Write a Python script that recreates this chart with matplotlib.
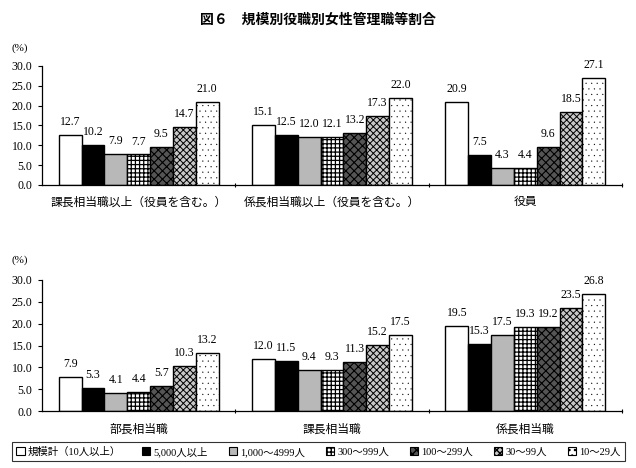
import matplotlib
matplotlib.use("Agg")
import matplotlib.pyplot as plt
import matplotlib.patches as mpatches
import numpy as np

plt.rcParams['font.family'] = ['Liberation Serif', 'Noto Sans CJK JP']

title = "図６　規模別役職別女性管理職等割合"
series_labels = ["規模計（10人以上）", "5,000人以上", "1,000～4999人", "300～999人",
                 "100～299人", "30～99人", "10～29人"]
top_categories = ["課長相当職以上（役員を含む。）", "係長相当職以上（役員を含む。）", "役員"]
bottom_categories = ["部長相当職", "課長相当職", "係長相当職"]

top_values = [
    [12.7, 15.1, 20.9],
    [10.2, 12.5, 7.5],
    [7.9, 12.0, 4.3],
    [7.7, 12.1, 4.4],
    [9.5, 13.2, 9.6],
    [14.7, 17.3, 18.5],
    [21.0, 22.0, 27.1],
]
bottom_values = [
    [7.9, 12.0, 19.5],
    [5.3, 11.5, 15.3],
    [4.1, 9.4, 17.5],
    [4.4, 9.3, 19.3],
    [5.7, 11.3, 19.2],
    [10.3, 15.2, 23.5],
    [13.2, 17.5, 26.8],
]
yticks = [0, 5, 10, 15, 20, 25, 30]

styles = [
    dict(facecolor='white', hatch=None, hlw=0.8),
    dict(facecolor='black', hatch=None, hlw=0.8),
    dict(facecolor='#b8b8b8', hatch=None, hlw=0.8),
    dict(facecolor='white', hatch='++++', hlw=0.9),
    dict(facecolor='#555555', hatch='xxxx', hlw=0.8),
    dict(facecolor='#c8c8c8', hatch='xxxxx', hlw=0.7),
    dict(facecolor='white', hatch='...', hlw=0.1),
]

fig = plt.figure(figsize=(6.36, 4.68), dpi=100)
W, H = 636, 468

def make_ax(top_px, bottom_px):
    return fig.add_axes([42 / W, 1 - bottom_px / H, 580 / W, (bottom_px - top_px) / H])

ax1 = make_ax(66, 185)
ax2 = make_ax(280, 411)

bw = 0.118
n = len(series_labels)

def draw(ax, values, cats):
    x = np.arange(len(cats))
    for i, vals in enumerate(values):
        pos = x + (i - (n - 1) / 2) * bw
        st = styles[i]
        with plt.rc_context({'hatch.linewidth': st['hlw']}):
            bars = ax.bar(pos, vals, bw, facecolor=st['facecolor'], edgecolor='black',
                          linewidth=1.0, hatch=st['hatch'], zorder=2)
        for b, v in zip(bars, vals):
            ax.annotate(f"{v:.1f}", (b.get_x() + b.get_width() / 2, v),
                        xytext=(0, 5), textcoords='offset points',
                        ha='center', va='bottom', fontsize=8.5)
    ax.set_xlim(-0.5, len(cats) - 0.5)
    ax.set_ylim(0, 30)
    ax.set_yticks(yticks)
    ax.set_yticklabels([f"{t:.1f}" for t in yticks], fontsize=8.5)
    ax.set_xticks([0.5, 1.5, 2.5])
    ax.set_xticklabels([])
    ax.tick_params(axis='x', length=3, direction='inout', width=0.8)
    ax.tick_params(axis='y', length=3, direction='out', width=0.8, pad=4)
    for s in ['top', 'right']:
        ax.spines[s].set_visible(False)
    for s in ['left', 'bottom']:
        ax.spines[s].set_linewidth(0.9)
    for xi, c in enumerate(cats):
        ax.text(xi, -2.6, c, ha='center', va='top', fontsize=8.5,
                family=['Noto Sans CJK JP'], transform=ax.transData)

draw(ax1, top_values, top_categories)
draw(ax2, bottom_values, bottom_categories)

fig.text(0.5, 1 - 20 / H, title, ha='center', va='center', fontsize=10,
         fontweight='bold', family=['Noto Sans CJK JP'])
fig.text(12 / W, 1 - 48 / H, "(%)", ha='left', va='center', fontsize=8)
fig.text(12 / W, 1 - 260 / H, "(%)", ha='left', va='center', fontsize=8)

handles = []
for st in styles:
    with plt.rc_context({'hatch.linewidth': st['hlw']}):
        handles.append(mpatches.Patch(facecolor=st['facecolor'], edgecolor='black',
                                      hatch=st['hatch'], linewidth=0.8))
leg = fig.legend(handles, series_labels, loc='center',
                 bbox_to_anchor=(12 / W, 1 - 463 / H, 613 / W, 23 / H), mode='expand',
                 ncol=7, frameon=True, fancybox=False, edgecolor='black',
                 handlelength=0.8, handleheight=0.8, handletextpad=0.3,
                 columnspacing=1.0, borderpad=0.4, borderaxespad=0,
                 prop={'family': ['Liberation Serif', 'Noto Sans CJK JP'], 'size': 7.5})
leg.get_frame().set_linewidth(0.8)

fig.savefig("out.png", dpi=100)
